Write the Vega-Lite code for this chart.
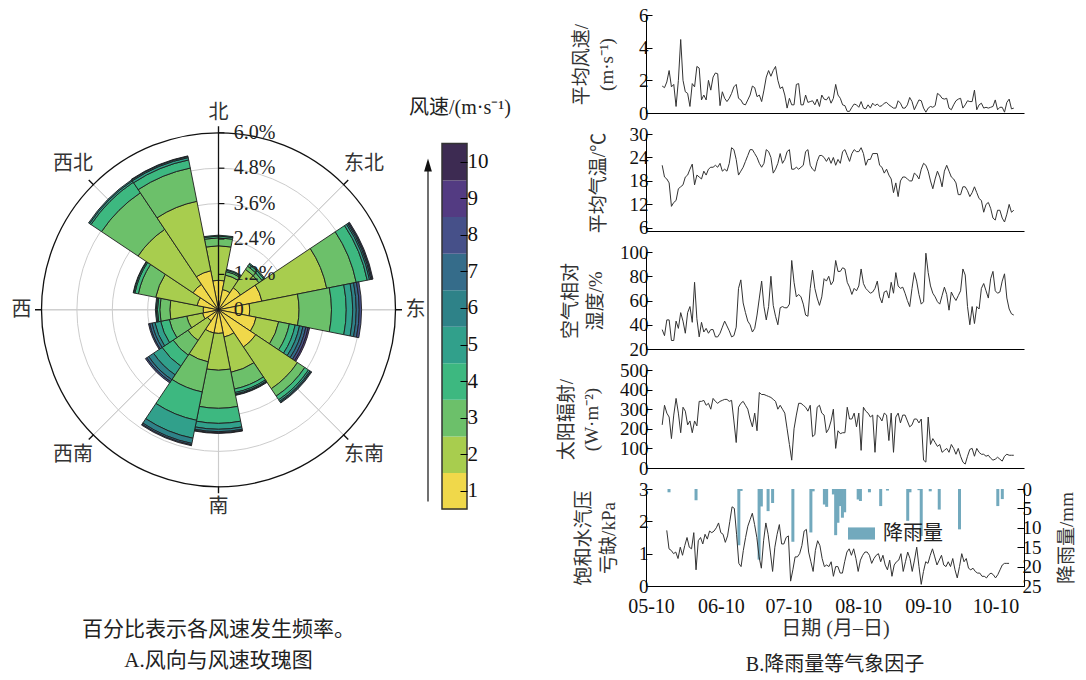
{
"$schema": "https://vega.github.io/schema/vega-lite/v6.json",
"padding": {"left": 0, "top": 6, "right": 0, "bottom": 0},
"background": "white",
"bounds": "flush",
"spacing": 179,
"resolve": {"scale": {"color": "independent"}, "legend": {"color": "independent"}},
"config": {
  "view": {"stroke": null},
  "font": "Liberation Serif, Noto Sans CJK SC",
  "axis": {"grid": false, "domainColor": "#000", "domainWidth": 1, "tickColor": "#000", "tickWidth": 1, "labelColor": "#111", "labelFont": "Liberation Serif", "labelFontSize": 19, "labelOverlap": false, "titleFont": "Liberation Serif, Noto Sans CJK SC", "titleFontSize": 19, "titleFontWeight": "normal", "titleColor": "#333"}
},
"datasets": {
  "speeds": [{"speed":1},{"speed":2},{"speed":3},{"speed":4},{"speed":5},{"speed":6},{"speed":7},{"speed":8},{"speed":9},{"speed":10}],
  "dirs": [{"a":0,"lab":"北"},{"a":45,"lab":"东北"},{"a":90,"lab":"东"},{"a":135,"lab":"东南"},{"a":180,"lab":"南"},{"a":225,"lab":"西南"},{"a":270,"lab":"西"},{"a":315,"lab":"西北"}],
  "ringticks": [{"rv":0,"lab":"0"},{"rv":1.2,"lab":"1.2%"},{"rv":2.4,"lab":"2.4%"},{"rv":3.6,"lab":"3.6%"},{"rv":4.8,"lab":"4.8%"},{"rv":6,"lab":"6.0%"}],
  "rose": [
    {"dir":0,"speed":1,"f":1.0},{"dir":0,"speed":2,"f":1.17},{"dir":0,"speed":3,"f":0.27},{"dir":0,"speed":4,"f":0.06},{"dir":0,"speed":5,"f":0.03},
    {"dir":22.5,"speed":1,"f":0.7},{"dir":22.5,"speed":2,"f":0.5},{"dir":22.5,"speed":3,"f":0.12},{"dir":22.5,"speed":4,"f":0.05},{"dir":22.5,"speed":5,"f":0.03},
    {"dir":45,"speed":1,"f":0.9},{"dir":45,"speed":2,"f":0.75},{"dir":45,"speed":3,"f":0.13},{"dir":45,"speed":4,"f":0.08},{"dir":45,"speed":5,"f":0.04},
    {"dir":67.5,"speed":1,"f":1.5},{"dir":67.5,"speed":2,"f":2.24},{"dir":67.5,"speed":3,"f":1.02},{"dir":67.5,"speed":4,"f":0.38},{"dir":67.5,"speed":5,"f":0.08},{"dir":67.5,"speed":6,"f":0.05},{"dir":67.5,"speed":7,"f":0.04},{"dir":67.5,"speed":8,"f":0.03},
    {"dir":90,"speed":1,"f":1.06},{"dir":90,"speed":2,"f":1.67},{"dir":90,"speed":3,"f":1.1},{"dir":90,"speed":4,"f":0.5},{"dir":90,"speed":5,"f":0.22},{"dir":90,"speed":6,"f":0.12},{"dir":90,"speed":7,"f":0.1},{"dir":90,"speed":8,"f":0.08},
    {"dir":112.5,"speed":1,"f":1.3},{"dir":112.5,"speed":2,"f":0.78},{"dir":112.5,"speed":3,"f":0.37},{"dir":112.5,"speed":4,"f":0.2},{"dir":112.5,"speed":5,"f":0.15},{"dir":112.5,"speed":6,"f":0.12},{"dir":112.5,"speed":7,"f":0.1},{"dir":112.5,"speed":8,"f":0.08},{"dir":112.5,"speed":9,"f":0.05},
    {"dir":135,"speed":1,"f":1.52},{"dir":135,"speed":2,"f":1.7},{"dir":135,"speed":3,"f":0.3},{"dir":135,"speed":4,"f":0.15},{"dir":135,"speed":5,"f":0.06},{"dir":135,"speed":6,"f":0.04},{"dir":135,"speed":7,"f":0.03},
    {"dir":157.5,"speed":1,"f":0.94},{"dir":157.5,"speed":2,"f":1.22},{"dir":157.5,"speed":3,"f":0.58},{"dir":157.5,"speed":4,"f":0.12},{"dir":157.5,"speed":5,"f":0.05},{"dir":157.5,"speed":6,"f":0.03},{"dir":157.5,"speed":7,"f":0.02},
    {"dir":180,"speed":1,"f":0.8},{"dir":180,"speed":2,"f":1.25},{"dir":180,"speed":3,"f":1.29},{"dir":180,"speed":4,"f":0.51},{"dir":180,"speed":5,"f":0.2},{"dir":180,"speed":6,"f":0.08},{"dir":180,"speed":7,"f":0.04},{"dir":180,"speed":8,"f":0.02},
    {"dir":202.5,"speed":1,"f":0.8},{"dir":202.5,"speed":2,"f":1.0},{"dir":202.5,"speed":3,"f":1.04},{"dir":202.5,"speed":4,"f":0.98},{"dir":202.5,"speed":5,"f":0.62},{"dir":202.5,"speed":6,"f":0.18},{"dir":202.5,"speed":7,"f":0.05},{"dir":202.5,"speed":8,"f":0.03},
    {"dir":225,"speed":1,"f":0.45},{"dir":225,"speed":2,"f":0.8},{"dir":225,"speed":3,"f":0.6},{"dir":225,"speed":4,"f":0.45},{"dir":225,"speed":5,"f":0.35},{"dir":225,"speed":6,"f":0.2},{"dir":225,"speed":7,"f":0.08},{"dir":225,"speed":8,"f":0.05},
    {"dir":247.5,"speed":1,"f":0.55},{"dir":247.5,"speed":2,"f":0.55},{"dir":247.5,"speed":3,"f":0.6},{"dir":247.5,"speed":4,"f":0.3},{"dir":247.5,"speed":5,"f":0.2},{"dir":247.5,"speed":6,"f":0.1},{"dir":247.5,"speed":7,"f":0.08},{"dir":247.5,"speed":8,"f":0.04},
    {"dir":270,"speed":1,"f":0.52},{"dir":270,"speed":2,"f":1.13},{"dir":270,"speed":3,"f":0.34},{"dir":270,"speed":4,"f":0.08},{"dir":270,"speed":5,"f":0.04},{"dir":270,"speed":6,"f":0.03},
    {"dir":292.5,"speed":1,"f":0.74},{"dir":292.5,"speed":2,"f":1.43},{"dir":292.5,"speed":3,"f":0.6},{"dir":292.5,"speed":4,"f":0.12},{"dir":292.5,"speed":5,"f":0.04},{"dir":292.5,"speed":6,"f":0.02},
    {"dir":315,"speed":1,"f":1.04},{"dir":315,"speed":2,"f":2.24},{"dir":315,"speed":3,"f":1.49},{"dir":315,"speed":4,"f":0.43},{"dir":315,"speed":5,"f":0.06},{"dir":315,"speed":6,"f":0.04},
    {"dir":337.5,"speed":1,"f":1.35},{"dir":337.5,"speed":2,"f":2.4},{"dir":337.5,"speed":3,"f":1.15},{"dir":337.5,"speed":4,"f":0.28},{"dir":337.5,"speed":5,"f":0.08},{"dir":337.5,"speed":6,"f":0.04},{"dir":337.5,"speed":7,"f":0.02}
  ],
  "days": [
    {"d":"2022-05-17","ws":1.65,"t":22.0,"rh":36,"sr":220,"vpd":1.72,"rain":0},
    {"d":"2022-05-18","ws":1.55,"t":19.0,"rh":31,"sr":320,"vpd":1.15,"rain":0.85},
    {"d":"2022-05-19","ws":1.9,"t":18.5,"rh":44,"sr":280,"vpd":1.1,"rain":0},
    {"d":"2022-05-20","ws":2.6,"t":17.5,"rh":44,"sr":260,"vpd":1.0,"rain":0},
    {"d":"2022-05-21","ws":1.6,"t":11.5,"rh":27,"sr":150,"vpd":1.05,"rain":0},
    {"d":"2022-05-22","ws":1.75,"t":12.5,"rh":27,"sr":270,"vpd":0.85,"rain":0},
    {"d":"2022-05-23","ws":0.4,"t":13.0,"rh":43,"sr":355,"vpd":1.2,"rain":0},
    {"d":"2022-05-24","ws":2.0,"t":16.0,"rh":37,"sr":280,"vpd":0.95,"rain":0},
    {"d":"2022-05-25","ws":4.5,"t":16.5,"rh":50,"sr":180,"vpd":1.25,"rain":0},
    {"d":"2022-05-26","ws":2.0,"t":17.0,"rh":43,"sr":310,"vpd":1.5,"rain":0},
    {"d":"2022-05-27","ws":1.3,"t":19.0,"rh":33,"sr":290,"vpd":1.2,"rain":0},
    {"d":"2022-05-28","ws":1.2,"t":19.5,"rh":50,"sr":220,"vpd":1.15,"rain":0},
    {"d":"2022-05-29","ws":0.4,"t":21.0,"rh":55,"sr":240,"vpd":1.65,"rain":0},
    {"d":"2022-05-30","ws":1.8,"t":22.3,"rh":42,"sr":180,"vpd":0.5,"rain":2.9},
    {"d":"2022-05-31","ws":1.6,"t":17.0,"rh":75,"sr":240,"vpd":1.4,"rain":0},
    {"d":"2022-06-01","ws":2.85,"t":19.5,"rh":45,"sr":215,"vpd":1.5,"rain":0},
    {"d":"2022-06-02","ws":2.75,"t":19.0,"rh":30,"sr":340,"vpd":1.3,"rain":0},
    {"d":"2022-06-03","ws":0.8,"t":18.5,"rh":42,"sr":340,"vpd":1.6,"rain":0},
    {"d":"2022-06-04","ws":1.1,"t":20.5,"rh":34,"sr":345,"vpd":1.45,"rain":0},
    {"d":"2022-06-05","ws":0.8,"t":19.5,"rh":37,"sr":320,"vpd":1.7,"rain":0},
    {"d":"2022-06-06","ws":2.0,"t":21.0,"rh":33,"sr":330,"vpd":1.65,"rain":0},
    {"d":"2022-06-07","ws":1.4,"t":21.5,"rh":36,"sr":300,"vpd":1.7,"rain":0},
    {"d":"2022-06-08","ws":2.2,"t":21.5,"rh":36,"sr":355,"vpd":1.8,"rain":0},
    {"d":"2022-06-09","ws":2.45,"t":22.0,"rh":30,"sr":340,"vpd":1.95,"rain":0},
    {"d":"2022-06-10","ws":2.4,"t":21.5,"rh":30,"sr":330,"vpd":1.65,"rain":0},
    {"d":"2022-06-11","ws":0.45,"t":22.5,"rh":33,"sr":340,"vpd":1.6,"rain":0},
    {"d":"2022-06-12","ws":1.3,"t":20.5,"rh":38,"sr":345,"vpd":1.35,"rain":0},
    {"d":"2022-06-13","ws":0.9,"t":21.0,"rh":43,"sr":350,"vpd":1.55,"rain":0},
    {"d":"2022-06-14","ws":0.7,"t":20.5,"rh":39,"sr":350,"vpd":2.0,"rain":0},
    {"d":"2022-06-15","ws":0.9,"t":22.5,"rh":35,"sr":340,"vpd":2.45,"rain":0},
    {"d":"2022-06-16","ws":1.2,"t":26.5,"rh":30,"sr":345,"vpd":2.4,"rain":0},
    {"d":"2022-06-17","ws":1.6,"t":26.0,"rh":31,"sr":240,"vpd":1.6,"rain":0},
    {"d":"2022-06-18","ws":1.75,"t":23.5,"rh":38,"sr":130,"vpd":0.7,"rain":14.5},
    {"d":"2022-06-19","ws":0.9,"t":19.5,"rh":70,"sr":310,"vpd":0.6,"rain":0.5},
    {"d":"2022-06-20","ws":0.8,"t":20.5,"rh":77,"sr":330,"vpd":1.1,"rain":0},
    {"d":"2022-06-21","ws":0.55,"t":21.5,"rh":58,"sr":340,"vpd":1.5,"rain":0},
    {"d":"2022-06-22","ws":0.5,"t":23.0,"rh":50,"sr":320,"vpd":1.85,"rain":0},
    {"d":"2022-06-23","ws":0.8,"t":24.5,"rh":43,"sr":300,"vpd":2.05,"rain":0},
    {"d":"2022-06-24","ws":1.1,"t":26.0,"rh":40,"sr":250,"vpd":2.25,"rain":0},
    {"d":"2022-06-25","ws":1.65,"t":26.0,"rh":34,"sr":210,"vpd":1.9,"rain":0},
    {"d":"2022-06-26","ws":1.55,"t":25.0,"rh":37,"sr":280,"vpd":1.5,"rain":0},
    {"d":"2022-06-27","ws":1.0,"t":24.0,"rh":48,"sr":190,"vpd":0.9,"rain":18.2},
    {"d":"2022-06-28","ws":1.1,"t":22.5,"rh":62,"sr":385,"vpd":0.55,"rain":4.5},
    {"d":"2022-06-29","ws":0.7,"t":21.5,"rh":76,"sr":375,"vpd":1.4,"rain":0},
    {"d":"2022-06-30","ws":1.4,"t":22.5,"rh":55,"sr":375,"vpd":1.95,"rain":0},
    {"d":"2022-07-01","ws":2.2,"t":26.0,"rh":44,"sr":370,"vpd":1.6,"rain":5.7},
    {"d":"2022-07-02","ws":2.6,"t":25.5,"rh":55,"sr":365,"vpd":1.05,"rain":0},
    {"d":"2022-07-03","ws":2.25,"t":24.0,"rh":80,"sr":360,"vpd":0.45,"rain":3.6},
    {"d":"2022-07-04","ws":2.6,"t":20.0,"rh":56,"sr":350,"vpd":1.2,"rain":0},
    {"d":"2022-07-05","ws":2.85,"t":21.0,"rh":47,"sr":340,"vpd":1.6,"rain":0},
    {"d":"2022-07-06","ws":2.0,"t":22.5,"rh":40,"sr":300,"vpd":1.9,"rain":0},
    {"d":"2022-07-07","ws":1.5,"t":25.0,"rh":54,"sr":320,"vpd":1.3,"rain":0},
    {"d":"2022-07-08","ws":1.6,"t":22.5,"rh":55,"sr":300,"vpd":1.3,"rain":0},
    {"d":"2022-07-09","ws":1.1,"t":23.5,"rh":54,"sr":280,"vpd":1.5,"rain":0},
    {"d":"2022-07-10","ws":0.3,"t":25.5,"rh":54,"sr":200,"vpd":1.55,"rain":0},
    {"d":"2022-07-11","ws":0.9,"t":26.0,"rh":57,"sr":120,"vpd":0.15,"rain":0},
    {"d":"2022-07-12","ws":0.5,"t":21.0,"rh":93,"sr":40,"vpd":0.5,"rain":13.6},
    {"d":"2022-07-13","ws":0.5,"t":21.0,"rh":75,"sr":200,"vpd":0.9,"rain":0},
    {"d":"2022-07-14","ws":1.75,"t":21.5,"rh":63,"sr":270,"vpd":0.9,"rain":0},
    {"d":"2022-07-15","ws":1.8,"t":21.0,"rh":65,"sr":330,"vpd":1.0,"rain":0},
    {"d":"2022-07-16","ws":0.5,"t":21.5,"rh":63,"sr":330,"vpd":1.25,"rain":0},
    {"d":"2022-07-17","ws":0.5,"t":22.0,"rh":57,"sr":320,"vpd":1.7,"rain":0},
    {"d":"2022-07-18","ws":1.1,"t":25.5,"rh":48,"sr":310,"vpd":1.75,"rain":0},
    {"d":"2022-07-19","ws":0.65,"t":26.0,"rh":47,"sr":290,"vpd":1.05,"rain":0},
    {"d":"2022-07-20","ws":0.7,"t":22.0,"rh":70,"sr":320,"vpd":0.75,"rain":11.2},
    {"d":"2022-07-21","ws":0.75,"t":21.0,"rh":85,"sr":160,"vpd":0.45,"rain":0.6},
    {"d":"2022-07-22","ws":0.5,"t":20.5,"rh":70,"sr":170,"vpd":1.1,"rain":0},
    {"d":"2022-07-23","ws":0.85,"t":23.0,"rh":62,"sr":310,"vpd":1.4,"rain":0},
    {"d":"2022-07-24","ws":0.4,"t":24.5,"rh":56,"sr":320,"vpd":1.25,"rain":0},
    {"d":"2022-07-25","ws":1.1,"t":24.5,"rh":63,"sr":280,"vpd":0.85,"rain":0},
    {"d":"2022-07-26","ws":0.85,"t":24.0,"rh":78,"sr":270,"vpd":0.6,"rain":4.0},
    {"d":"2022-07-27","ws":0.8,"t":23.0,"rh":76,"sr":180,"vpd":0.65,"rain":4.6},
    {"d":"2022-07-28","ws":1.0,"t":24.0,"rh":80,"sr":200,"vpd":0.6,"rain":0},
    {"d":"2022-07-29","ws":0.6,"t":22.5,"rh":73,"sr":240,"vpd":0.75,"rain":0},
    {"d":"2022-07-30","ws":0.9,"t":24.0,"rh":76,"sr":300,"vpd":0.3,"rain":1.4},
    {"d":"2022-07-31","ws":1.75,"t":22.0,"rh":93,"sr":100,"vpd":0.6,"rain":11.9},
    {"d":"2022-08-01","ws":1.1,"t":23.5,"rh":84,"sr":190,"vpd":0.6,"rain":8.7},
    {"d":"2022-08-02","ws":0.9,"t":22.5,"rh":84,"sr":175,"vpd":0.4,"rain":4.4},
    {"d":"2022-08-03","ws":0.5,"t":25.5,"rh":87,"sr":180,"vpd":0.4,"rain":7.4},
    {"d":"2022-08-04","ws":0.45,"t":26.0,"rh":86,"sr":180,"vpd":0.75,"rain":6.0},
    {"d":"2022-08-05","ws":0.1,"t":24.5,"rh":75,"sr":310,"vpd":1.05,"rain":0},
    {"d":"2022-08-06","ws":0.1,"t":23.0,"rh":71,"sr":250,"vpd":1.15,"rain":0},
    {"d":"2022-08-07","ws":0.35,"t":25.0,"rh":65,"sr":250,"vpd":0.95,"rain":0},
    {"d":"2022-08-08","ws":0.55,"t":26.0,"rh":70,"sr":280,"vpd":1.15,"rain":0},
    {"d":"2022-08-09","ws":0.5,"t":25.5,"rh":68,"sr":210,"vpd":0.85,"rain":0},
    {"d":"2022-08-10","ws":0.35,"t":25.5,"rh":72,"sr":280,"vpd":0.45,"rain":2.7},
    {"d":"2022-08-11","ws":0.7,"t":26.5,"rh":86,"sr":90,"vpd":0.8,"rain":3.1},
    {"d":"2022-08-12","ws":0.3,"t":25.0,"rh":74,"sr":310,"vpd":0.95,"rain":0},
    {"d":"2022-08-13","ws":0.25,"t":22.0,"rh":70,"sr":290,"vpd":1.05,"rain":0},
    {"d":"2022-08-14","ws":0.5,"t":23.5,"rh":68,"sr":280,"vpd":1.05,"rain":0},
    {"d":"2022-08-15","ws":0.3,"t":23.5,"rh":66,"sr":260,"vpd":0.95,"rain":0.85},
    {"d":"2022-08-16","ws":0.6,"t":25.0,"rh":67,"sr":270,"vpd":0.7,"rain":0},
    {"d":"2022-08-17","ws":0.45,"t":25.0,"rh":70,"sr":80,"vpd":0.85,"rain":0},
    {"d":"2022-08-18","ws":0.55,"t":25.0,"rh":76,"sr":270,"vpd":0.95,"rain":0},
    {"d":"2022-08-19","ws":0.4,"t":22.0,"rh":63,"sr":260,"vpd":1.0,"rain":0},
    {"d":"2022-08-20","ws":0.45,"t":21.5,"rh":58,"sr":240,"vpd":0.75,"rain":4.4},
    {"d":"2022-08-21","ws":0.6,"t":20.0,"rh":67,"sr":280,"vpd":0.95,"rain":0},
    {"d":"2022-08-22","ws":0.65,"t":21.0,"rh":68,"sr":270,"vpd":0.65,"rain":0},
    {"d":"2022-08-23","ws":0.5,"t":19.5,"rh":62,"sr":140,"vpd":0.5,"rain":0.4},
    {"d":"2022-08-24","ws":0.4,"t":18.5,"rh":75,"sr":280,"vpd":0.8,"rain":0},
    {"d":"2022-08-25","ws":0.3,"t":15.0,"rh":66,"sr":80,"vpd":0.3,"rain":0},
    {"d":"2022-08-26","ws":0.3,"t":17.5,"rh":83,"sr":260,"vpd":0.65,"rain":0},
    {"d":"2022-08-27","ws":0.75,"t":14.0,"rh":72,"sr":280,"vpd":0.75,"rain":0},
    {"d":"2022-08-28","ws":0.6,"t":18.0,"rh":70,"sr":230,"vpd":0.8,"rain":0},
    {"d":"2022-08-29","ws":0.3,"t":19.0,"rh":71,"sr":270,"vpd":1.0,"rain":0},
    {"d":"2022-08-30","ws":0.3,"t":19.0,"rh":66,"sr":270,"vpd":0.45,"rain":0},
    {"d":"2022-08-31","ws":0.5,"t":18.5,"rh":60,"sr":240,"vpd":0.75,"rain":0},
    {"d":"2022-09-01","ws":0.95,"t":18.0,"rh":55,"sr":210,"vpd":1.05,"rain":8.2},
    {"d":"2022-09-02","ws":0.7,"t":18.0,"rh":70,"sr":220,"vpd":0.85,"rain":0.85},
    {"d":"2022-09-03","ws":0.2,"t":20.0,"rh":83,"sr":250,"vpd":0.45,"rain":0},
    {"d":"2022-09-04","ws":0.5,"t":19.5,"rh":76,"sr":250,"vpd":0.8,"rain":0},
    {"d":"2022-09-05","ws":0.8,"t":18.5,"rh":65,"sr":230,"vpd":1.2,"rain":0},
    {"d":"2022-09-06","ws":0.75,"t":21.0,"rh":57,"sr":250,"vpd":0.6,"rain":0.3},
    {"d":"2022-09-07","ws":0.3,"t":22.5,"rh":59,"sr":40,"vpd":0.05,"rain":12.1},
    {"d":"2022-09-08","ws":0.05,"t":22.0,"rh":99,"sr":30,"vpd":0.45,"rain":0},
    {"d":"2022-09-09","ws":0.3,"t":20.5,"rh":83,"sr":260,"vpd":0.75,"rain":0},
    {"d":"2022-09-10","ws":0.4,"t":18.0,"rh":72,"sr":120,"vpd":0.7,"rain":0},
    {"d":"2022-09-11","ws":0.35,"t":16.0,"rh":66,"sr":150,"vpd":0.95,"rain":0.6},
    {"d":"2022-09-12","ws":0.45,"t":18.5,"rh":63,"sr":130,"vpd":1.15,"rain":0},
    {"d":"2022-09-13","ws":1.2,"t":20.5,"rh":59,"sr":110,"vpd":0.9,"rain":0},
    {"d":"2022-09-14","ws":1.1,"t":19.0,"rh":57,"sr":120,"vpd":0.65,"rain":0},
    {"d":"2022-09-15","ws":0.9,"t":16.5,"rh":64,"sr":80,"vpd":0.8,"rain":5.3},
    {"d":"2022-09-16","ws":0.85,"t":20.5,"rh":71,"sr":90,"vpd":0.95,"rain":0},
    {"d":"2022-09-17","ws":0.9,"t":22.0,"rh":65,"sr":100,"vpd":0.65,"rain":0},
    {"d":"2022-09-18","ws":0.3,"t":20.5,"rh":52,"sr":80,"vpd":0.6,"rain":0},
    {"d":"2022-09-19","ws":0.2,"t":19.0,"rh":67,"sr":120,"vpd":0.75,"rain":0},
    {"d":"2022-09-20","ws":0.5,"t":18.5,"rh":63,"sr":100,"vpd":0.6,"rain":0},
    {"d":"2022-09-21","ws":0.75,"t":17.5,"rh":60,"sr":70,"vpd":0.85,"rain":0},
    {"d":"2022-09-22","ws":0.85,"t":14.5,"rh":64,"sr":100,"vpd":0.5,"rain":0},
    {"d":"2022-09-23","ws":0.9,"t":14.5,"rh":68,"sr":60,"vpd":0.25,"rain":0},
    {"d":"2022-09-24","ws":0.3,"t":16.5,"rh":86,"sr":30,"vpd":0.6,"rain":10.4},
    {"d":"2022-09-25","ws":0.5,"t":16.5,"rh":81,"sr":20,"vpd":1.0,"rain":0},
    {"d":"2022-09-26","ws":0.75,"t":15.5,"rh":55,"sr":60,"vpd":0.75,"rain":0},
    {"d":"2022-09-27","ws":0.7,"t":14.0,"rh":40,"sr":95,"vpd":0.85,"rain":0},
    {"d":"2022-09-28","ws":0.7,"t":15.0,"rh":55,"sr":100,"vpd":0.55,"rain":0},
    {"d":"2022-09-29","ws":1.4,"t":16.5,"rh":41,"sr":60,"vpd":0.5,"rain":0},
    {"d":"2022-09-30","ws":0.2,"t":15.0,"rh":55,"sr":100,"vpd":0.55,"rain":0},
    {"d":"2022-10-01","ws":0.5,"t":13.5,"rh":53,"sr":80,"vpd":0.45,"rain":0},
    {"d":"2022-10-02","ws":0.6,"t":13.0,"rh":70,"sr":70,"vpd":0.4,"rain":0},
    {"d":"2022-10-03","ws":0.3,"t":10.0,"rh":74,"sr":70,"vpd":0.4,"rain":0},
    {"d":"2022-10-04","ws":0.35,"t":12.0,"rh":68,"sr":60,"vpd":0.3,"rain":0},
    {"d":"2022-10-05","ws":0.3,"t":12.5,"rh":62,"sr":65,"vpd":0.3,"rain":0},
    {"d":"2022-10-06","ws":0.35,"t":11.0,"rh":78,"sr":50,"vpd":0.25,"rain":0},
    {"d":"2022-10-07","ws":0.4,"t":8.5,"rh":84,"sr":40,"vpd":0.35,"rain":0},
    {"d":"2022-10-08","ws":0.8,"t":8.0,"rh":68,"sr":45,"vpd":0.4,"rain":0},
    {"d":"2022-10-09","ws":0.2,"t":10.5,"rh":66,"sr":55,"vpd":0.35,"rain":0},
    {"d":"2022-10-10","ws":0.35,"t":10.5,"rh":67,"sr":45,"vpd":0.25,"rain":0},
    {"d":"2022-10-11","ws":0.35,"t":8.5,"rh":76,"sr":35,"vpd":0.35,"rain":4.4},
    {"d":"2022-10-12","ws":0.05,"t":7.5,"rh":82,"sr":60,"vpd":0.5,"rain":0},
    {"d":"2022-10-13","ws":0.65,"t":9.5,"rh":62,"sr":70,"vpd":0.65,"rain":2.6},
    {"d":"2022-10-14","ws":0.85,"t":12.0,"rh":53,"sr":65,"vpd":0.7,"rain":0},
    {"d":"2022-10-15","ws":0.25,"t":10.0,"rh":49,"sr":65,"vpd":0.7,"rain":0},
    {"d":"2022-10-16","ws":0.3,"t":10.5,"rh":48,"sr":65,"vpd":0.7,"rain":0}
  ]
},
"hconcat": [
  {
    "width": 230, "height": 650,
    "layer": [
      {
        "data": {"values": [{"rv": 1.2}, {"rv": 2.4}, {"rv": 3.6}, {"rv": 4.8}]},
        "mark": {"type": "arc", "theta": 0, "theta2": 6.2832, "filled": false, "stroke": "#cccccc", "strokeWidth": 1},
        "encoding": {
          "x": {"datum": 0, "type": "quantitative", "scale": {"domain": [-7.4068, 0.3898], "nice": false, "zero": false}, "axis": null},
          "y": {"datum": 0, "type": "quantitative", "scale": {"domain": [-12.041, 9.993], "nice": false, "zero": false}, "axis": null},
          "radius": {"field": "rv", "type": "quantitative", "stack": null, "scale": {"type": "linear", "domain": [0, 6], "range": [0, 177], "zero": true, "nice": false}}
        }
      },
      {
        "data": {"name": "dirs"},
        "transform": [{"filter": "datum.a > 0"}],
        "mark": {"type": "arc", "filled": false, "stroke": "#cccccc", "strokeWidth": 1, "thetaOffset": -0.0005, "theta2Offset": 0.0005},
        "encoding": {
          "x": {"datum": 0, "type": "quantitative", "scale": {"domain": [-7.4068, 0.3898], "nice": false, "zero": false}, "axis": null},
          "y": {"datum": 0, "type": "quantitative", "scale": {"domain": [-12.041, 9.993], "nice": false, "zero": false}, "axis": null},
          "theta": {"field": "a", "type": "quantitative", "scale": {"domain": [0, 360], "range": [0, 6.283185307]}, "stack": null},
          "theta2": {"field": "a"},
          "radius": {"datum": 6, "type": "quantitative", "stack": null, "scale": {"type": "linear", "domain": [0, 6], "range": [0, 177], "zero": true, "nice": false}}
        }
      },
      {
        "data": {"name": "rose"},
        "transform": [{"stack": "f", "groupby": ["dir"], "sort": [{"field": "speed", "order": "ascending"}], "as": ["r0", "r1"]}],
        "mark": {"type": "arc", "stroke": "#1e1e1e", "strokeWidth": 0.9, "thetaOffset": -0.19635, "theta2Offset": 0.19635},
        "encoding": {
          "x": {"datum": 0, "type": "quantitative", "scale": {"domain": [-7.4068, 0.3898], "nice": false, "zero": false}, "axis": null},
          "y": {"datum": 0, "type": "quantitative", "scale": {"domain": [-12.041, 9.993], "nice": false, "zero": false}, "axis": null},
          "theta": {"field": "dir", "type": "quantitative", "scale": {"domain": [0, 360], "range": [0, 6.283185307]}, "stack": null},
          "theta2": {"field": "dir"},
          "radius": {"field": "r1", "type": "quantitative", "scale": {"type": "linear", "domain": [0, 6], "range": [0, 177], "zero": true, "nice": false}, "stack": null},
          "radius2": {"field": "r0"},
          "color": {"field": "speed", "type": "ordinal", "scale": {"domain": [1,2,3,4,5,6,7,8,9,10], "range": ["#f0d84a","#a8cd4e","#6cc06a","#3db880","#31a08b","#2e8288","#356c8a","#465089","#533b82","#3d2b52"]}, "legend": null}
        }
      },
      {
        "data": {"values": [{}]},
        "mark": {"type": "arc", "theta": 0, "theta2": 6.2832, "filled": false, "stroke": "#111111", "strokeWidth": 1.3},
        "encoding": {
          "x": {"datum": 0, "type": "quantitative", "scale": {"domain": [-7.4068, 0.3898], "nice": false, "zero": false}, "axis": null},
          "y": {"datum": 0, "type": "quantitative", "scale": {"domain": [-12.041, 9.993], "nice": false, "zero": false}, "axis": null},
          "radius": {"datum": 6, "type": "quantitative", "stack": null, "scale": {"type": "linear", "domain": [0, 6], "range": [0, 177], "zero": true, "nice": false}}
        }
      },
      {
        "data": {"name": "dirs"},
        "mark": {"type": "arc", "filled": false, "stroke": "#111111", "strokeWidth": 1.2, "thetaOffset": -0.0005, "theta2Offset": 0.0005},
        "encoding": {
          "x": {"datum": 0, "type": "quantitative", "scale": {"domain": [-7.4068, 0.3898], "nice": false, "zero": false}, "axis": null},
          "y": {"datum": 0, "type": "quantitative", "scale": {"domain": [-12.041, 9.993], "nice": false, "zero": false}, "axis": null},
          "theta": {"field": "a", "type": "quantitative", "scale": {"domain": [0, 360], "range": [0, 6.283185307]}, "stack": null},
          "theta2": {"field": "a"},
          "radius": {"datum": 6.2, "type": "quantitative", "stack": null, "scale": {"type": "linear", "domain": [0, 6], "range": [0, 177], "zero": true, "nice": false}},
          "radius2": {"datum": 6}
        }
      },
      {
        "data": {"values": [{}]},
        "mark": {"type": "rule", "color": "#111111", "strokeWidth": 1.3},
        "encoding": {
          "x": {"datum": 0, "type": "quantitative", "scale": {"domain": [-7.4068, 0.3898], "nice": false, "zero": false}, "axis": null},
          "y": {"datum": 0, "type": "quantitative", "scale": {"domain": [-12.041, 9.993], "nice": false, "zero": false}, "axis": null},
          "y2": {"datum": 6}
        }
      },
      {
        "data": {"name": "ringticks"},
        "transform": [{"filter": "datum.rv > 0"}],
        "mark": {"type": "rule", "color": "#111111", "strokeWidth": 1.2},
        "encoding": {
          "x": {"datum": 0, "type": "quantitative", "scale": {"domain": [-7.4068, 0.3898], "nice": false, "zero": false}, "axis": null},
          "x2": {"datum": 0.2},
          "y": {"field": "rv", "type": "quantitative", "scale": {"domain": [-12.041, 9.993], "nice": false, "zero": false}, "axis": null}
        }
      },
      {
        "data": {"name": "ringticks"},
        "mark": {"type": "text", "align": "left", "baseline": "middle", "fontSize": 20, "color": "#222222", "font": "Liberation Serif"},
        "encoding": {
          "x": {"datum": 0.52, "type": "quantitative", "scale": {"domain": [-7.4068, 0.3898], "nice": false, "zero": false}, "axis": null},
          "y": {"field": "rv", "type": "quantitative", "scale": {"domain": [-12.041, 9.993], "nice": false, "zero": false}, "axis": null},
          "text": {"field": "lab"}
        }
      },
      {
        "data": {"name": "dirs"},
        "transform": [{"filter": "datum.a % 90 == 0"}],
        "mark": {"type": "text", "align": "center", "baseline": "middle", "fontSize": 20, "color": "#333333", "font": "Noto Sans CJK SC"},
        "encoding": {
          "x": {"datum": 0, "type": "quantitative", "scale": {"domain": [-7.4068, 0.3898], "nice": false, "zero": false}, "axis": null},
          "y": {"datum": 0, "type": "quantitative", "scale": {"domain": [-12.041, 9.993], "nice": false, "zero": false}, "axis": null},
          "theta": {"field": "a", "type": "quantitative", "scale": {"domain": [0, 360], "range": [0, 6.283185307]}, "stack": null},
          "radius": {"datum": 6.68, "type": "quantitative", "stack": null, "scale": {"type": "linear", "domain": [0, 6], "range": [0, 177], "zero": true, "nice": false}},
          "text": {"field": "lab"}
        }
      },
      {
        "data": {"name": "dirs"},
        "transform": [{"filter": "datum.a % 90 != 0"}],
        "mark": {"type": "text", "align": "center", "baseline": "middle", "fontSize": 20, "color": "#333333", "font": "Noto Sans CJK SC"},
        "encoding": {
          "x": {"datum": 0, "type": "quantitative", "scale": {"domain": [-7.4068, 0.3898], "nice": false, "zero": false}, "axis": null},
          "y": {"datum": 0, "type": "quantitative", "scale": {"domain": [-12.041, 9.993], "nice": false, "zero": false}, "axis": null},
          "theta": {"field": "a", "type": "quantitative", "scale": {"domain": [0, 360], "range": [0, 6.283185307]}, "stack": null},
          "radius": {"datum": 6.98, "type": "quantitative", "stack": null, "scale": {"type": "linear", "domain": [0, 6], "range": [0, 177], "zero": true, "nice": false}},
          "text": {"field": "lab"}
        }
      },
      {
        "data": {"values": [{}]},
        "mark": {"type": "text", "text": "百分比表示各风速发生频率。", "align": "center", "baseline": "middle", "fontSize": 21, "color": "#222222"},
        "encoding": {
          "x": {"datum": 0, "type": "quantitative", "scale": {"domain": [-7.4068, 0.3898], "nice": false, "zero": false}, "axis": null},
          "y": {"datum": -10.84, "type": "quantitative", "scale": {"domain": [-12.041, 9.993], "nice": false, "zero": false}, "axis": null}
        }
      },
      {
        "data": {"values": [{}]},
        "mark": {"type": "text", "text": "A.风向与风速玫瑰图", "align": "center", "baseline": "middle", "fontSize": 21, "color": "#222222"},
        "encoding": {
          "x": {"datum": 0, "type": "quantitative", "scale": {"domain": [-7.4068, 0.3898], "nice": false, "zero": false}, "axis": null},
          "y": {"datum": -11.89, "type": "quantitative", "scale": {"domain": [-12.041, 9.993], "nice": false, "zero": false}, "axis": null}
        }
      }
    ]
  },
  {
    "width": 58, "height": 494,
    "layer": [
      {
        "data": {"name": "speeds"},
        "mark": {"type": "rect"},
        "encoding": {
          "x": {"datum": 33, "type": "quantitative", "scale": {"domain": [0, 58], "nice": false, "zero": false}, "axis": null},
          "x2": {"datum": 58},
          "y": {"field": "speed", "type": "quantitative", "bin": {"extent": [0.5, 10.5], "step": 1, "nice": false}, "scale": {"domain": [0.5, 14.016], "nice": false, "zero": false},
                "axis": {"orient": "right", "values": [1,2,3,4,5,6,7,8,9,10], "tickSize": -7, "labelPadding": 7, "labelFontSize": 21, "domain": false, "title": null, "labelFlush": false, "format": "d"}},
          "color": {"field": "speed", "type": "ordinal", "scale": {"domain": [1,2,3,4,5,6,7,8,9,10], "range": ["#f0d84a","#a8cd4e","#6cc06a","#3db880","#31a08b","#2e8288","#356c8a","#465089","#533b82","#3d2b52"]}, "legend": null}
        }
      },
      {
        "data": {"values": [{}]},
        "mark": {"type": "rect", "filled": false, "stroke": "#333333", "strokeWidth": 1.5},
        "encoding": {
          "x": {"datum": 33, "type": "quantitative", "scale": {"domain": [0, 58], "nice": false, "zero": false}, "axis": null},
          "x2": {"datum": 58},
          "y": {"datum": 0.5, "type": "quantitative", "scale": {"domain": [0.5, 14.016], "nice": false, "zero": false}},
          "y2": {"datum": 10.5}
        }
      },
      {
        "data": {"values": [{}]},
        "mark": {"type": "rule", "color": "#111111", "strokeWidth": 1.2},
        "encoding": {
          "x": {"datum": 19, "type": "quantitative", "scale": {"domain": [0, 58], "nice": false, "zero": false}, "axis": null},
          "y": {"datum": 0.705, "type": "quantitative", "scale": {"domain": [0.5, 14.016], "nice": false, "zero": false}},
          "y2": {"datum": 9.8}
        }
      },
      {
        "data": {"values": [{}]},
        "mark": {"type": "point", "shape": "M0,-1L0.6,1L-0.6,1Z", "size": 169, "filled": true, "color": "#111111", "opacity": 1},
        "encoding": {
          "x": {"datum": 19, "type": "quantitative", "scale": {"domain": [0, 58], "nice": false, "zero": false}, "axis": null},
          "y": {"datum": 9.91, "type": "quantitative", "scale": {"domain": [0.5, 14.016], "nice": false, "zero": false}}
        }
      },
      {
        "data": {"values": [{}]},
        "mark": {"type": "text", "text": "风速/(m·s⁻¹)", "align": "center", "baseline": "middle", "fontSize": 20, "color": "#222222"},
        "encoding": {
          "x": {"datum": 51, "type": "quantitative", "scale": {"domain": [0, 58], "nice": false, "zero": false}, "axis": null},
          "y": {"datum": 11.47, "type": "quantitative", "scale": {"domain": [0.5, 14.016], "nice": false, "zero": false}}
        }
      }
    ]
  },
  {
    "bounds": "flush",
    "spacing": 21,
    "vconcat": [
      {
        "width": 378, "height": 98,
        "data": {"name": "days"},
        "mark": {"type": "line", "color": "#333333", "strokeWidth": 1},
        "encoding": {
          "x": {"field": "d", "type": "temporal", "scale": {"type": "utc", "domain": [{"year": 2022, "month": 5, "date": 10, "utc": true}, {"year": 2022, "month": 10, "date": 20, "hours": 10, "utc": true}]}, "axis": {"labels": false, "ticks": false, "title": null}},
          "y": {"field": "ws", "type": "quantitative", "scale": {"domain": [0, 6], "nice": false}, "axis": {"values": [0, 2, 4, 6], "tickSize": -6, "labelPadding": 4, "title": ["平均风速/", "(m·s⁻¹)"], "titlePadding": 22, "titleLineHeight": 25}}
        }
      },
      {
        "width": 378, "height": 97,
        "data": {"name": "days"},
        "mark": {"type": "line", "color": "#333333", "strokeWidth": 1},
        "encoding": {
          "x": {"field": "d", "type": "temporal", "scale": {"type": "utc", "domain": [{"year": 2022, "month": 5, "date": 10, "utc": true}, {"year": 2022, "month": 10, "date": 20, "hours": 10, "utc": true}]}, "axis": {"labels": false, "ticks": false, "title": null}},
          "y": {"field": "t", "type": "quantitative", "scale": {"domain": [5.2, 30], "nice": false, "zero": false}, "axis": {"values": [6, 12, 18, 24, 30], "tickSize": -6, "labelPadding": 4, "title": "平均气温/℃", "titlePadding": 21}}
        }
      },
      {
        "width": 378, "height": 97,
        "data": {"name": "days"},
        "mark": {"type": "line", "color": "#333333", "strokeWidth": 1},
        "encoding": {
          "x": {"field": "d", "type": "temporal", "scale": {"type": "utc", "domain": [{"year": 2022, "month": 5, "date": 10, "utc": true}, {"year": 2022, "month": 10, "date": 20, "hours": 10, "utc": true}]}, "axis": {"labels": false, "ticks": false, "title": null}},
          "y": {"field": "rh", "type": "quantitative", "scale": {"domain": [20, 100], "nice": false, "zero": false}, "axis": {"values": [20, 40, 60, 80, 100], "tickSize": -6, "labelPadding": 4, "title": ["空气相对", "湿度/%"], "titlePadding": 14, "titleLineHeight": 25}}
        }
      },
      {
        "width": 378, "height": 98,
        "data": {"name": "days"},
        "mark": {"type": "line", "color": "#333333", "strokeWidth": 1},
        "encoding": {
          "x": {"field": "d", "type": "temporal", "scale": {"type": "utc", "domain": [{"year": 2022, "month": 5, "date": 10, "utc": true}, {"year": 2022, "month": 10, "date": 20, "hours": 10, "utc": true}]}, "axis": {"labels": false, "ticks": false, "title": null}},
          "y": {"field": "sr", "type": "quantitative", "scale": {"domain": [0, 500], "nice": false}, "axis": {"values": [0, 100, 200, 300, 400, 500], "tickSize": -6, "labelPadding": 4, "title": ["太阳辐射/", "(W·m⁻²)"], "titlePadding": 18, "titleLineHeight": 25}}
        }
      },
      {
        "width": 378, "height": 97,
        "data": {"name": "days"},
        "title": {"text": "B.降雨量等气象因子", "orient": "bottom", "anchor": "middle", "frame": "group", "fontSize": 20, "fontWeight": "normal", "color": "#222222", "offset": 17},
        "layer": [
          {
            "transform": [{"filter": "datum.rain > 0"}, {"fold": ["rain"], "as": ["series", "mm"]}],
            "mark": {"type": "bar", "size": 3},
            "encoding": {
              "x": {"field": "d", "type": "temporal", "scale": {"type": "utc", "domain": [{"year": 2022, "month": 5, "date": 10, "utc": true}, {"year": 2022, "month": 10, "date": 20, "hours": 10, "utc": true}]},
                    "axis": {"values": [{"year": 2022, "month": 5, "date": 10, "utc": true}, {"year": 2022, "month": 6, "date": 10, "utc": true}, {"year": 2022, "month": 7, "date": 10, "utc": true}, {"year": 2022, "month": 8, "date": 10, "utc": true}, {"year": 2022, "month": 9, "date": 10, "utc": true}, {"year": 2022, "month": 10, "date": 10, "utc": true}],
                             "labelExpr": "utcFormat(datum.value, '%m-%d')", "ticks": false, "labelPadding": 10, "labelFontSize": 20, "labelFlush": false, "title": "日期 (月–日)", "titleFontSize": 20, "titlePadding": 2}},
              "y": {"field": "mm", "type": "quantitative", "stack": null, "scale": {"domain": [0, 25], "reverse": true, "nice": false}, "axis": {"orient": "right", "values": [0, 5, 10, 15, 20, 25], "tickSize": -7, "labelPadding": 5, "title": "降雨量/mm", "titleAngle": 270, "titleBaseline": "top", "titlePadding": 16}},
              "color": {"field": "series", "type": "nominal", "scale": {"domain": ["rain"], "range": ["#72a9bd"]}, "legend": {"orient": "none", "legendX": 202, "legendY": 505, "padding": 0, "title": null, "labelExpr": "'降雨量'", "symbolType": "M-1,-0.45H1V0.45H-1Z", "symbolSize": 729, "symbolStrokeWidth": 0, "labelFontSize": 20, "labelFont": "Noto Sans CJK SC", "labelOffset": 8, "labelColor": "#222222"}}
            }
          },
          {
            "mark": {"type": "line", "color": "#333333", "strokeWidth": 1},
            "encoding": {
              "x": {"field": "d", "type": "temporal", "scale": {"type": "utc", "domain": [{"year": 2022, "month": 5, "date": 10, "utc": true}, {"year": 2022, "month": 10, "date": 20, "hours": 10, "utc": true}]},
                    "axis": {"values": [{"year": 2022, "month": 5, "date": 10, "utc": true}, {"year": 2022, "month": 6, "date": 10, "utc": true}, {"year": 2022, "month": 7, "date": 10, "utc": true}, {"year": 2022, "month": 8, "date": 10, "utc": true}, {"year": 2022, "month": 9, "date": 10, "utc": true}, {"year": 2022, "month": 10, "date": 10, "utc": true}],
                             "labelExpr": "utcFormat(datum.value, '%m-%d')", "ticks": false, "labelPadding": 10, "labelFontSize": 20, "labelFlush": false, "title": "日期 (月–日)", "titleFontSize": 20, "titlePadding": 2}},
              "y": {"field": "vpd", "type": "quantitative", "scale": {"domain": [0, 3], "nice": false}, "axis": {"orient": "left", "values": [0, 1, 2, 3], "tickSize": -6, "labelPadding": 4, "title": ["饱和水汽压", "亏缺/kPa"], "titlePadding": 20, "titleLineHeight": 25}}
            }
          }
        ],
        "resolve": {"scale": {"y": "independent"}}
      }
    ]
  }
]
}
